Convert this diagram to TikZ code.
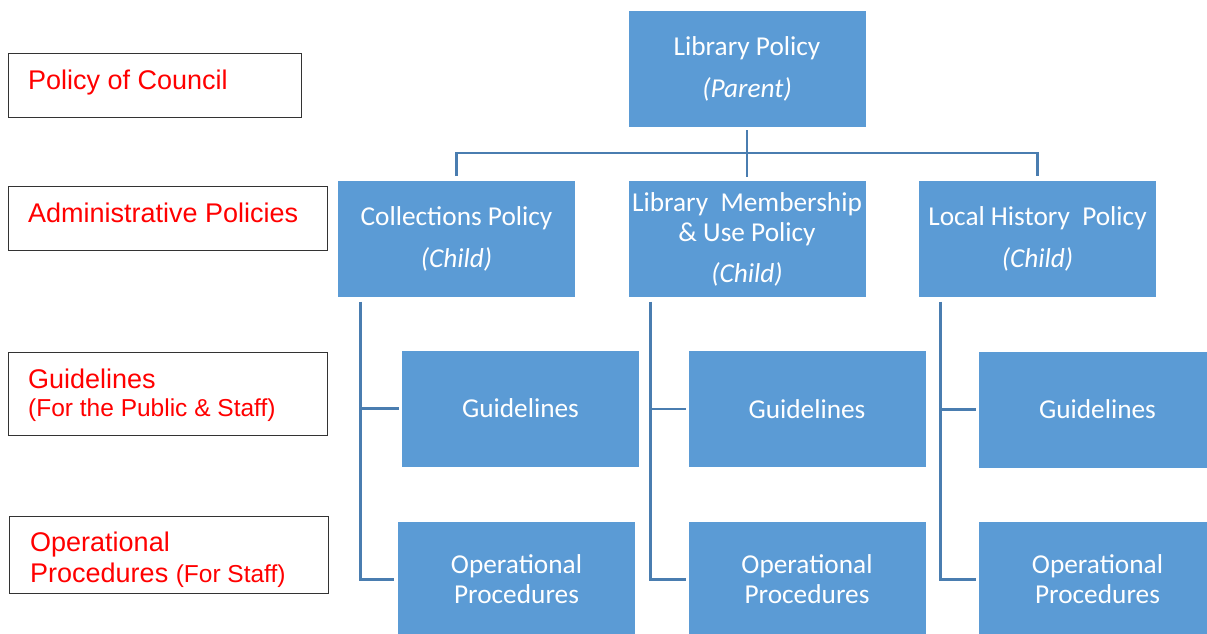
\documentclass[tikz,border=0pt]{standalone}
\usepackage{fontspec}
\setmainfont{Carlito}
\newfontfamily\arialfont{Liberation Sans}
\definecolor{boxblue}{HTML}{5B9BD5}
\definecolor{connblue}{HTML}{4A7DB0}
\definecolor{labred}{HTML}{FF0000}
\tikzset{
  bluebox/.style={rectangle, fill=boxblue, draw=white, line width=0.6pt,
    minimum width=238pt, minimum height=117pt, inner sep=0pt,
    text=white, align=center, font=\fontsize{27.3}{30}\selectfont},
  labbox/.style={rectangle, draw=black!80, line width=1pt, inner sep=0pt, anchor=north west},
  labtext/.style={inner sep=0pt, anchor=base west, text=labred,
    font=\arialfont\fontsize{27}{30}\selectfont},
  conn/.style={draw=connblue, line width=2.6pt}
}
\newcommand{\smallpar}[1]{{\fontsize{24.5}{28}\selectfont #1}}
\begin{document}
\begin{tikzpicture}[x=1pt,y=-1pt]
\useasboundingbox (0,0) rectangle (1207,633);
\clip (0,0) rectangle (1207,633);

% left label boxes
\node[labbox, minimum width=293pt, minimum height=64pt] (lb1) at (8,53) {};
\node[labbox, minimum width=319pt, minimum height=64pt] (lb2) at (8,186) {};
\node[labbox, minimum width=319pt, minimum height=83pt] (lb3) at (8,352) {};
\node[labbox, minimum width=319pt, minimum height=77pt] (lb4) at (9,516) {};

\node[labtext] (lt1) at (28,89) {Policy of Council};
\node[labtext] (lt2) at (28,222) {Administrative Policies};
\node[labtext] (lt3a) at (28,388) {Guidelines};
\node[labtext] (lt3b) at (28,416) {\smallpar{(For the Public \& Staff)}};
\node[labtext] (lt4a) at (30,551) {Operational};
\node[labtext] (lt4b) at (30,582) {Procedures \smallpar{(For Staff)}};

% blue boxes
\node[bluebox] (par) at (747,68.5) {Library Policy\\[12pt]\textit{(Parent)}};
\node[bluebox] (coll) at (456.5,239) {Collections Policy\\[12pt]\textit{(Child)}};
\node[bluebox] (memb) at (747,239) {Library\ \ Membership\\\&\ Use Policy\\[11pt]\textit{(Child)}};
\node[bluebox] (loc) at (1037.5,239) {Local History\ \ Policy\\[12pt]\textit{(Child)}};

\node[bluebox] (g1) at (520.5,408.5) {Guidelines};
\node[bluebox] (g2) at (807,409) {Guidelines};
\node[bluebox] (g3) at (1097.5,409.5) {Guidelines};

\node[bluebox] (o1) at (516.5,579.5) {Operational\\Procedures};
\node[bluebox] (o2) at (807,579.5) {Operational\\Procedures};
\node[bluebox] (o3) at (1097.5,579.5) {Operational\\Procedures};

% top connectors
\coordinate (bar) at (747,153);
\draw[conn] ([yshift=-3pt]par.south) -- ([yshift=3pt]memb.north);
\draw[conn] ([yshift=4pt]coll.north) |- (bar) -| ([yshift=4pt]loc.north);

% side spines
\coordinate (s1) at ([xshift=23pt,yshift=-4pt]coll.south west);
\coordinate (s2) at ([xshift=23pt,yshift=-4pt]memb.south west);
\coordinate (s3) at ([xshift=22pt,yshift=-4pt]loc.south west);
\draw[conn] (s1) |- ([xshift=-2pt]g1.west);
\draw[conn] (s1) |- ([xshift=-3pt]o1.west);
\draw[conn] (s2) |- ([xshift=-2pt]g2.west);
\draw[conn] (s2) |- ([xshift=-2pt]o2.west);
\draw[conn] (s3) |- ([xshift=-2pt]g3.west);
\draw[conn] (s3) |- ([xshift=-2pt]o3.west);
\end{tikzpicture}
\end{document}
